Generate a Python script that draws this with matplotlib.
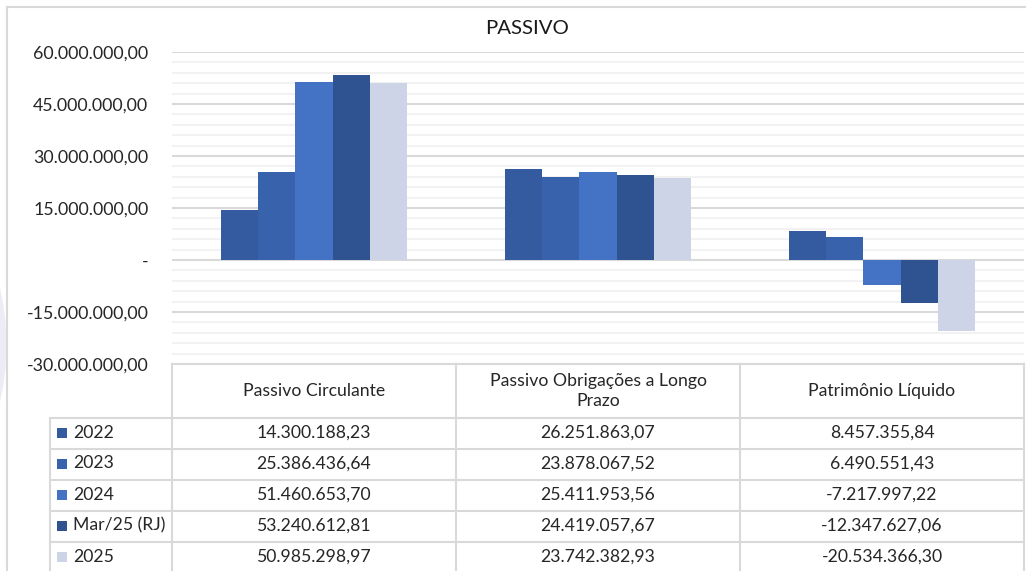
import matplotlib
matplotlib.use("Agg")
import matplotlib.pyplot as plt
from matplotlib.patches import Rectangle, Ellipse
from matplotlib.lines import Line2D
from matplotlib.ticker import MultipleLocator, FuncFormatter

plt.rcParams['font.family'] = ['Lato', 'DejaVu Sans']

categories = ["Passivo Circulante", "Passivo Obrigações a Longo\nPrazo", "Patrimônio Líquido"]
series_names = ["2022", "2023", "2024", "Mar/25 (RJ)", "2025"]
v2022 = [14300188.23, 26251863.07, 8457355.84]
v2023 = [25386436.64, 23878067.52, 6490551.43]
v2024 = [51460653.70, 25411953.56, -7217997.22]
vmar25 = [53240612.81, 24419057.67, -12347627.06]
v2025 = [50985298.97, 23742382.93, -20534366.30]
series_values = [v2022, v2023, v2024, vmar25, v2025]
colors = ["#345B9F", "#3863AC", "#4472C4", "#2F5291", "#CED4E8"]

W, H = 1026, 571
fig = plt.figure(figsize=(W / 100, H / 100), dpi=100)
fig.patch.set_facecolor("white")

def fx(px):
    return px / W

def fy(py):
    return 1 - py / H

# faint background shape at far left
fig.patches.append(Ellipse((fx(-100), fy(345)), fx(213), 330 / H, transform=fig.transFigure,
                           facecolor="#ECECF4", edgecolor="none", zorder=-1))
# chart border
fig.add_artist(Line2D([fx(7), fx(7)], [fy(7), 0], transform=fig.transFigure, color="#D9D9D9", lw=1.5))
fig.add_artist(Line2D([fx(7), 1], [fy(7), fy(7)], transform=fig.transFigure, color="#D9D9D9", lw=1.5))

ax_left, ax_right, ax_top, ax_bot = 172, 1024, 52, 364
ax = fig.add_axes([fx(ax_left), fy(ax_bot), fx(ax_right - ax_left), (ax_bot - ax_top) / H])
ax.set_facecolor("none")

n = len(series_names)
bw = 0.131
for i, (name, vals, c) in enumerate(zip(series_names, series_values, colors)):
    xs = [k + (i - (n - 1) / 2) * bw for k in range(len(categories))]
    ax.bar(xs, vals, width=bw, color=c, edgecolor="none", zorder=3)

ax.set_xlim(-0.5, len(categories) - 0.5)
ax.set_ylim(-30e6, 60e6)
ax.yaxis.set_major_locator(MultipleLocator(15e6))
ax.yaxis.set_minor_locator(MultipleLocator(3e6))

def yfmt(v, pos):
    if abs(v) < 1:
        return "-"
    s = f"{v:,.2f}"
    return s.replace(",", "X").replace(".", ",").replace("X", ".")

ax.yaxis.set_major_formatter(FuncFormatter(yfmt))
ax.grid(which="major", axis="y", color="#D9D9D9", lw=1.5, zorder=1)
ax.grid(which="minor", axis="y", color="#F2F2F2", lw=1.5, zorder=1)
ax.tick_params(axis="y", which="both", length=0, labelsize=12.8, labelcolor="#262626", pad=17)
ax.tick_params(axis="x", which="both", length=0, labelbottom=False)
for s in ax.spines.values():
    s.set_visible(False)

fig.text(fx(527), fy(28), "PASSIVO", ha="center", va="center", fontsize=14.7, color="#1A1A1A")

# data table
def vfmt(v):
    s = f"{v:,.2f}"
    return s.replace(",", "X").replace(".", ",").replace("X", ".")

lc = "#D9D9D9"
col_x = [ax_left + k * (ax_right - ax_left) / len(categories) for k in range(len(categories) + 1)]
row_y = [418, 449, 480, 511, 542, 573]
header_top = 364
fig.add_artist(Line2D([fx(ax_left), fx(ax_right)], [fy(header_top)] * 2, transform=fig.transFigure, color=lc, lw=1.5))
for yy in row_y[:-1]:
    fig.add_artist(Line2D([fx(50), fx(ax_right)], [fy(yy)] * 2, transform=fig.transFigure, color=lc, lw=1.5))
for xx in col_x:
    fig.add_artist(Line2D([fx(xx)] * 2, [fy(header_top), 0], transform=fig.transFigure, color=lc, lw=1.5))
fig.add_artist(Line2D([fx(50)] * 2, [fy(418), 0], transform=fig.transFigure, color=lc, lw=1.5))

fs = 12.7
for k, cat in enumerate(categories):
    cx = (col_x[k] + col_x[k + 1]) / 2
    fig.text(fx(cx), fy(391), cat, ha="center", va="center", fontsize=fs, color="#262626", linespacing=1.25)

for i, (name, vals, c) in enumerate(zip(series_names, series_values, colors)):
    cy = (row_y[i] + row_y[i + 1]) / 2 - 1
    fig.patches.append(Rectangle((fx(57), fy(cy + 5)), fx(10), 10 / H, transform=fig.transFigure,
                                 facecolor=c, edgecolor="none"))
    fig.text(fx(73), fy(cy), name, ha="left", va="center", fontsize=fs, color="#262626")
    for k, v in enumerate(vals):
        cx = (col_x[k] + col_x[k + 1]) / 2
        fig.text(fx(cx), fy(cy), vfmt(v), ha="center", va="center", fontsize=fs, color="#262626")

fig.savefig("out.png", dpi=100, facecolor="white")
